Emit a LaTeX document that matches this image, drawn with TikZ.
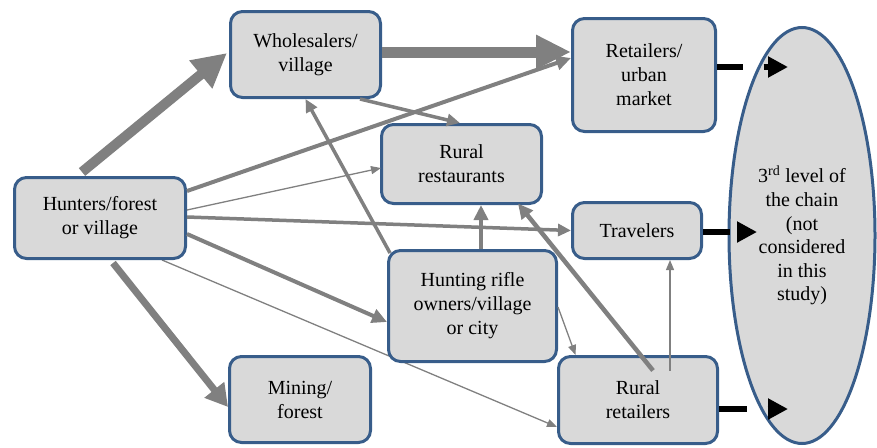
\documentclass[tikz,border=0pt]{standalone}
\usepackage{fontspec}
\setmainfont{Liberation Serif}
\usetikzlibrary{arrows.meta,shapes.geometric}
\definecolor{boxfill}{HTML}{D9D9D9}
\definecolor{boxline}{HTML}{385D8A}
\definecolor{flow}{HTML}{808080}
\pgfdeclarelayer{background}
\pgfsetlayers{background,main}
\begin{document}
\begin{tikzpicture}[x=1pt,y=-1pt,
  box/.style={draw=boxline, fill=boxfill, line width=3pt, rounded corners=12pt,
    inner sep=0pt, align=center, font=\fontsize{20}{24}\selectfont},
  ellbox/.style={ellipse, draw=boxline, fill=boxfill, line width=3pt,
    inner sep=0pt, align=center, font=\fontsize{20}{23.6}\selectfont},
  flowhuge/.style={draw=flow, line width=11pt, -{Triangle[length=35pt,width=32pt]}},
  flowbig/.style={draw=flow, line width=10pt, -{Triangle[length=34pt,width=34pt]}},
  flowthick/.style={draw=flow, line width=7pt, -{Triangle[length=22pt,width=24pt]}},
  flowmid/.style={draw=flow, line width=4.5pt, -{Triangle[length=15pt,width=14pt]}},
  flowmed/.style={draw=flow, line width=3.5pt, -{Triangle[length=13pt,width=12pt]}},
  flowthin/.style={draw=flow, line width=1.3pt, -{Triangle[length=10pt,width=8pt]}},
  blk/.style={draw=black, line width=6.5pt, -{Triangle[length=20pt,width=20pt]}}
]
\useasboundingbox (0,0) rectangle (877,447);

% nodes
\node[box, minimum width=150pt, minimum height=86pt] (whole) at (305.5,54.5) {Wholesalers/\\village};
\node[box, minimum width=143pt, minimum height=113pt] (ret) at (644,75) {Retailers/\\urban\\market};
\node[box, minimum width=171pt, minimum height=81pt] (hunt) at (100,218) {Hunters/forest\\or village};
\node[box, minimum width=160pt, minimum height=79pt] (rest) at (461.5,164) {Rural\\restaurants};
\node[box, minimum width=129pt, minimum height=56pt] (trav) at (637,230.5) {Travelers};
\node[box, minimum width=168pt, minimum height=111pt] (rifle) at (472.5,306) {Hunting rifle\\owners/village\\or city};
\node[box, minimum width=141pt, minimum height=86pt] (mine) at (300,399.5) {Mining/\\forest};
\node[box, minimum width=159pt, minimum height=87pt] (rret) at (638,400) {Rural\\retailers};
\node[ellbox, minimum width=146pt, minimum height=416pt] (ell) at (802,235.5)
  {3\textsuperscript{rd} level of\\the chain\\(not\\considered\\in this\\study)};

% background connector (passes behind the rifle box)
\begin{pgfonlayer}{background}
\draw[flowthin] ([xshift=62pt]hunt.south) -- ([yshift=-27pt]rret.west);
\end{pgfonlayer}

% gray connectors
\draw[flowbig] ([xshift=-18pt,yshift=4pt]hunt.north) -- ([xshift=-2pt,yshift=1.5pt]whole.west);
\draw[flowhuge] ([yshift=2.5pt]whole.east) -- ([yshift=23pt]ret.west);
\draw[flowmid, line width=4pt] ([yshift=27pt]hunt.east) -- ([yshift=17pt]ret.west);
\draw[flowthin] ([yshift=8pt]hunt.east) -- ([xshift=1pt,yshift=-4pt]rest.west);
\draw[flowmed] ([yshift=1pt]hunt.east) -- (trav.west);
\draw[flowmid, line width=4pt] ([yshift=-16pt]hunt.east) -- ([yshift=-16pt]rifle.west);
\draw[flowthick] ([xshift=13pt,yshift=-3pt]hunt.south) -- ([yshift=-7.5pt]mine.west);
\draw[flowmed] ([xshift=54.5pt]whole.south) -- ([xshift=-1.5pt]rest.north);
\draw[flowmed] ([xshift=3pt,yshift=-4pt]rifle.north west) -- (whole.south);
\draw[flowmid] ([xshift=8.5pt]rifle.north) -- ([xshift=19.5pt]rest.south);
\draw[flowmid] ([xshift=15pt,yshift=-15.5pt]rret.north) -- ([xshift=56.5pt,yshift=1.5pt]rest.south);
\draw[flowthin] ([yshift=-1pt]rifle.east) -- ([xshift=18.5pt]rret.north west);
\draw[flowthin] ([xshift=32pt,yshift=-15.5pt]rret.north) -- ([xshift=33pt]trav.south);

% black connectors into the 3rd level
\draw[blk, dash pattern=on 25.5pt off 21pt] ([yshift=8pt]ret.east) -- ([xshift=-14pt,yshift=168.5pt]ell.center);
\draw[blk, dash pattern=on 26.5pt off 9pt] ([yshift=-1.5pt]trav.east) -- ([xshift=-45pt,yshift=3.5pt]ell.center);
\draw[blk, dash pattern=on 27.5pt off 21pt] ([yshift=-9pt]rret.east) -- ([xshift=-14pt,yshift=-173.5pt]ell.center);
\end{tikzpicture}
\end{document}
